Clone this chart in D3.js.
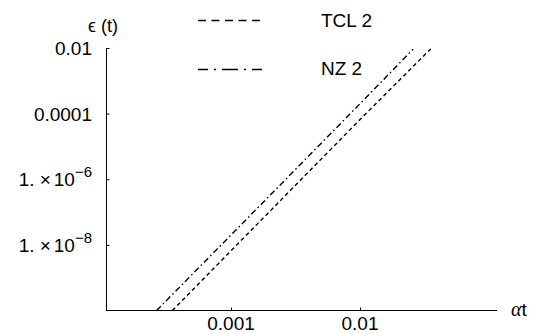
<!DOCTYPE html>
<html><head><meta charset="utf-8">
<script src="https://cdn.jsdelivr.net/npm/d3@7"></script>
<style>body{margin:0;background:#fff}svg{display:block}text{font-family:"Liberation Sans",Arial,sans-serif;fill:#000}</style>
</head><body><svg id="c" width="538" height="333"></svg>
<script>
const xDomain = [1.074e-4, 0.1153];
const yDomain = [1e-10, 0.01];
const xTicks = [0.001, 0.01];
const xTickLabels = ["0.001", "0.01"];
const yTicks = [0.01, 0.0001, 1e-6, 1e-8];
const yTickLabels = [["0.01"], ["0.0001"], ["1.", "\u00D7", "10", "\u22126"], ["1.", "\u00D7", "10", "\u22128"]];
const seriesNames = ["TCL 2", "NZ 2"];
const tclT = [3.51e-4, 0.001, 0.01, 0.0353];
const tclE = [1e-10, 6.6e-9, 6.6e-5, 0.0094];
const nzT = [2.65e-4, 0.001, 0.01, 0.0258];
const nzE = [1e-10, 2.0e-8, 2.0e-4, 0.0092];

const FS = 19;
const svg = d3.select("#c");
const x = d3.scaleLog().domain(xDomain).range([106, 497]);
const y = d3.scaleLog().domain(yDomain).range([310.5, 48]);

// axes
const xAxis = d3.axisBottom(x).tickValues(xTicks).tickSize(-3).tickFormat("");
const gx = svg.append("g").attr("transform", "translate(0,310.5)").call(xAxis);
gx.select(".domain").attr("d", `M${x(xDomain[0])},0H${x(xDomain[1])}`).attr("stroke", "#000");
gx.selectAll(".tick line").attr("stroke", "#000");
const yAxis = d3.axisLeft(y).tickValues(yTicks).tickSize(-3).tickFormat("");
const gy = svg.append("g").attr("transform", "translate(106.5,0)").call(yAxis);
gy.select(".domain").attr("d", `M0,${y(yDomain[1])}V${y(yDomain[0])}`).attr("stroke", "#000");
gy.selectAll(".tick line").attr("stroke", "#000");

// x tick labels
svg.selectAll(".xl").data(xTicks).enter().append("text")
  .attr("x", d => x(d)).attr("y", 330).attr("text-anchor", "middle")
  .attr("font-size", FS).text((d, i) => xTickLabels[i]);
// y tick labels
yTicks.forEach((d, i) => {
  const lab = yTickLabels[i];
  const t = svg.append("text").attr("x", 92).attr("y", y(d) + 7)
    .attr("text-anchor", "end").attr("font-size", FS);
  if (lab.length === 1) {
    t.text(lab[0]);
  } else {
    t.append("tspan").text(lab[0]);
    t.append("tspan").attr("dx", 5).text(lab[1]);
    t.append("tspan").attr("dx", 3).text(lab[2]);
    t.append("tspan").attr("dy", -9).attr("font-size", 15).text(lab[3]);
  }
});
// axis labels
svg.append("text").attr("x", 88).attr("y", 32).attr("font-size", 18).text("\u03F5 (t)");
const al = svg.append("text").attr("x", 511).attr("y", 316).attr("font-size", FS);
al.append("tspan").attr("font-family", "Liberation Serif, serif").attr("font-style", "italic").attr("font-size", 20).text("\u03B1");
al.append("tspan").text("t");

// lines
const line = d3.line().x(d => x(d[0])).y(d => y(d[1]));
const tcl = d3.zip(tclT, tclE), nz = d3.zip(nzT, nzE);
svg.append("path").attr("d", line(tcl)).attr("fill", "none").attr("stroke", "#000")
  .attr("stroke-width", 1.4).attr("stroke-dasharray", "4,3");
svg.append("path").attr("d", line(nz)).attr("fill", "none").attr("stroke", "#000")
  .attr("stroke-width", 1.4).attr("stroke-dasharray", "6,3,1.5,3");

// legend
svg.append("line").attr("x1", 198).attr("x2", 262).attr("y1", 20.5).attr("y2", 20.5)
  .attr("stroke", "#000").attr("stroke-width", 1.4).attr("stroke-dasharray", "8,5.5");
svg.append("line").attr("x1", 198).attr("x2", 262).attr("y1", 69.5).attr("y2", 69.5)
  .attr("stroke", "#000").attr("stroke-width", 1.4).attr("stroke-dasharray", "16,6,2,6").attr("stroke-dashoffset", 6);
svg.append("text").attr("x", 321).attr("y", 27).attr("font-size", FS).text(seriesNames[0]);
svg.append("text").attr("x", 321).attr("y", 75).attr("font-size", FS).text(seriesNames[1]);
</script></body></html>
